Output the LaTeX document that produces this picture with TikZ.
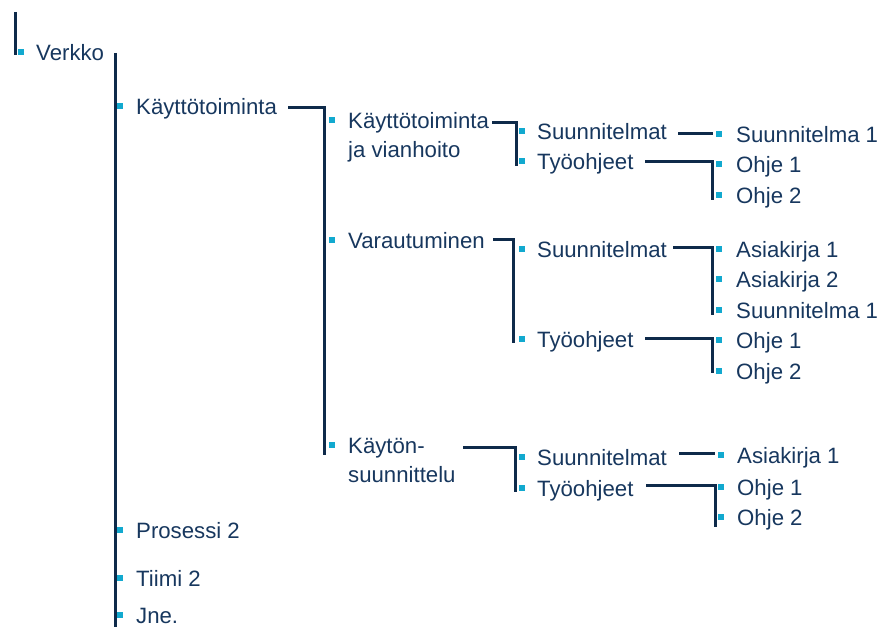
\documentclass[tikz,border=0pt]{standalone}
\usepackage{fontspec}
\setmainfont{Liberation Sans}
\definecolor{linkc}{HTML}{0E2A4A}
\definecolor{textc}{HTML}{17375E}
\definecolor{dotc}{HTML}{12A9CF}
\begin{document}
\begin{tikzpicture}[x=1pt,y=-1pt,
  dot/.style={fill=dotc,draw=none,inner sep=0pt,minimum size=6pt,rectangle},
  lbl/.style={anchor=base west,inner sep=0pt,text=textc,align=left,
    font=\fontsize{22.2}{29}\selectfont},
  conn/.style={draw=linkc,line width=3pt}]
\useasboundingbox (0,0) rectangle (880,626);

% ---- bullets and labels: name, bullet x, centre y, label x, text
% (a two-line label is anchored at the baseline of its last line,
%  hence the extra line of offset in \treeentrytwo)
\newcommand\treeentry[5]{%
  \node[dot] (#1-b) at (#2,#3) {};
  \node[lbl] (#1) at (#4,#3+8.5) {#5};}
\newcommand\treeentrytwo[5]{%
  \node[dot] (#1-b) at (#2,#3) {};
  \node[lbl] (#1) at (#4,#3+37.5) {#5};}

% root
\treeentry{verkko}{21}{52}{36}{Verkko}
% level 1
\treeentry{kt}{120}{106}{136}{Käyttötoiminta}
\treeentry{pr}{120}{530}{136}{Prosessi 2}
\treeentry{ti}{120}{578}{136}{Tiimi 2}
\treeentry{jne}{120}{615}{136}{Jne.}
% level 2
\treeentrytwo{kjv}{332}{120}{348}{Käyttötoiminta\\ja vianhoito}
\treeentry{var}{332}{240}{348}{Varautuminen}
\treeentrytwo{ks}{332}{445}{348}{Käytön-\\suunnittelu}
% level 3
\treeentry{as}{522}{131}{537}{Suunnitelmat}
\treeentry{at}{522}{161}{537}{Työohjeet}
\treeentry{bs}{522}{249}{537}{Suunnitelmat}
\treeentry{bt}{522}{339}{537}{Työohjeet}
\treeentry{cs}{522}{457}{537}{Suunnitelmat}
\treeentry{ct}{522}{488}{537}{Työohjeet}
% level 4
\treeentry{as1}{719}{134}{736}{Suunnitelma 1}
\treeentry{at1}{719}{164}{736}{Ohje 1}
\treeentry{at2}{719}{195}{736}{Ohje 2}
\treeentry{bs1}{719}{249}{736}{Asiakirja 1}
\treeentry{bs2}{719}{279}{736}{Asiakirja 2}
\treeentry{bs3}{719}{310}{736}{Suunnitelma 1}
\treeentry{bt1}{719}{340}{736}{Ohje 1}
\treeentry{bt2}{719}{371}{736}{Ohje 2}
\treeentry{cs1}{721}{455}{737}{Asiakirja 1}
\treeentry{ct1}{721}{487}{737}{Ohje 1}
\treeentry{ct2}{721}{517}{737}{Ohje 2}

% ---- connector end points
\coordinate (root-top) at (15,12);
\coordinate (root-end) at (15,55);
\coordinate (verkko-out) at (115,53);
\coordinate (verkko-end) at (115,630);
\coordinate (kt-out) at (288,107);
\coordinate (kt-end) at (324,455);
\coordinate (kjv-out) at (492,122);
\coordinate (kjv-end) at (516,166);
\coordinate (var-out) at (493,239);
\coordinate (var-end) at (513,343);
\coordinate (ks-out) at (463,447);
\coordinate (ks-end) at (515,492);
\coordinate (as-out) at (678,133);
\coordinate (at-out) at (645,161);
\coordinate (at-end) at (712,200);
\coordinate (bs-out) at (673,247);
\coordinate (bs-end) at (712,315);
\coordinate (bt-out) at (645,338);
\coordinate (bt-end) at (712,373);
\coordinate (cs-out) at (679,453);
\coordinate (ct-out) at (646,485);
\coordinate (ct-end) at (715,527);

% ---- connectors
\draw[conn] (root-top) -- (root-end);
\draw[conn] (verkko-out) -- (verkko-end);
\draw[conn] (kt-out) -| (kt-end);
\draw[conn] (kjv-out) -| (kjv-end);
\draw[conn] (var-out) -| (var-end);
\draw[conn] (ks-out) -| (ks-end);
\draw[conn] (as-out) -- ([xshift=-3pt]as-out -| as1-b.west);
\draw[conn] (at-out) -| (at-end);
\draw[conn] (bs-out) -| (bs-end);
\draw[conn] (bt-out) -| (bt-end);
\draw[conn] (cs-out) -- ([xshift=-3pt]cs-out -| cs1-b.west);
\draw[conn] (ct-out) -| (ct-end);
\end{tikzpicture}
\end{document}
